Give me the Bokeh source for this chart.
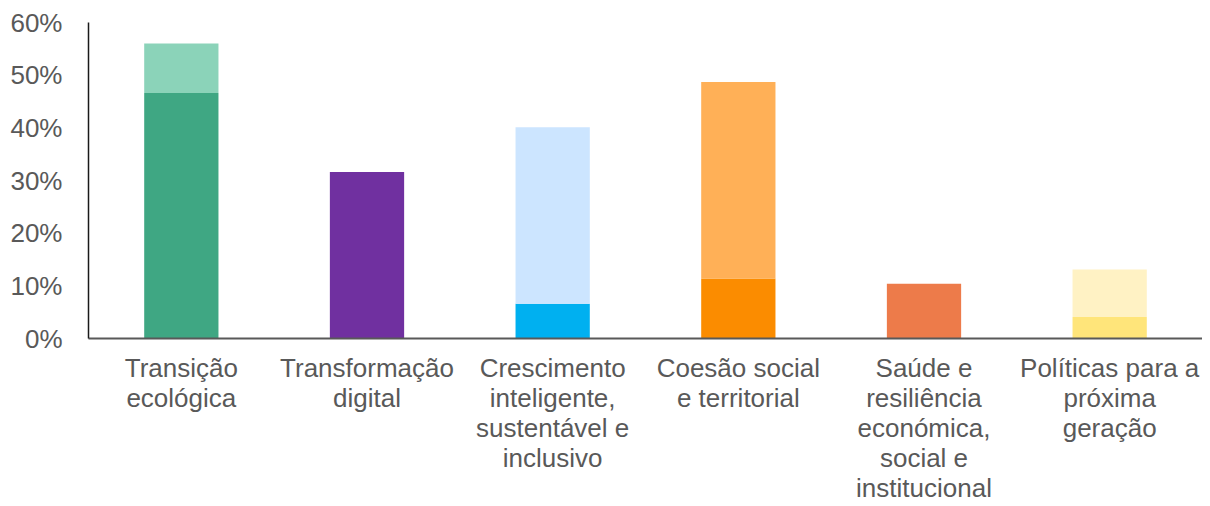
from bokeh.plotting import figure
from bokeh.models import ColumnDataSource, FactorRange, Range1d, PrintfTickFormatter, FixedTicker
from bokeh.embed import file_html
from bokeh.resources import INLINE

categories = [
    "Transição\necológica",
    "Transformação\ndigital",
    "Crescimento\ninteligente,\nsustentável e\ninclusivo",
    "Coesão social\ne territorial",
    "Saúde e\nresiliência\neconómica,\nsocial e\ninstitucional",
    "Políticas para a\npróxima\ngeração",
]
base_values = [46.6, 31.6, 6.6, 11.4, 10.4, 4.1]
extra_values = [9.4, 0.0, 33.5, 37.3, 0.0, 9.0]
base_colors = ["#3FA783", "#7030A0", "#00B0F0", "#FB8C00", "#ED7B4A", "#FFE57A"]
extra_colors = ["#8BD3B9", "#7030A0", "#CCE5FF", "#FFB057", "#ED7B4A", "#FFF2C4"]
y_ticks = [0, 10, 20, 30, 40, 50, 60]

tops = [b + e for b, e in zip(base_values, extra_values)]
src = ColumnDataSource(dict(cat=categories, base=base_values, top=tops,
                            bc=base_colors, ec=extra_colors))

p = figure(frame_width=1114, frame_height=316,
           x_range=FactorRange(*categories, range_padding=0),
           y_range=Range1d(0, 60), output_backend="svg", toolbar_location=None,
           min_border_left=88, min_border_right=0, min_border_top=22, min_border_bottom=0)

p.vbar(x="cat", bottom=0, top="base", width=0.4, fill_color="bc", line_color=None, source=src)
p.vbar(x="cat", bottom="base", top="top", width=0.4, fill_color="ec", line_color=None, source=src)

font = "Liberation Sans"
p.outline_line_color = None
p.xgrid.grid_line_color = None
p.ygrid.grid_line_color = None

p.yaxis.ticker = FixedTicker(ticks=y_ticks)
p.yaxis.formatter = PrintfTickFormatter(format="%d%%")
p.yaxis.major_tick_line_color = None
p.yaxis.minor_tick_line_color = None
p.yaxis.major_tick_out = 0
p.yaxis.major_label_standoff = 26
p.yaxis.axis_line_color = "#1a1a1a"
p.yaxis.axis_line_width = 1.5
p.yaxis.major_label_text_font = font
p.yaxis.major_label_text_font_size = "26px"
p.yaxis.major_label_text_color = "#595959"

p.xaxis.major_tick_line_color = None
p.xaxis.minor_tick_line_color = None
p.xaxis.major_tick_out = 0
p.xaxis.major_label_standoff = 14
p.xaxis.axis_line_color = "#595959"
p.xaxis.axis_line_width = 2
p.xaxis.major_label_text_font = font
p.xaxis.major_label_text_font_size = "26px"
p.xaxis.major_label_text_color = "#595959"
p.xaxis.major_label_text_line_height = 1.0

open("out.html", "w").write(file_html(p, INLINE))
